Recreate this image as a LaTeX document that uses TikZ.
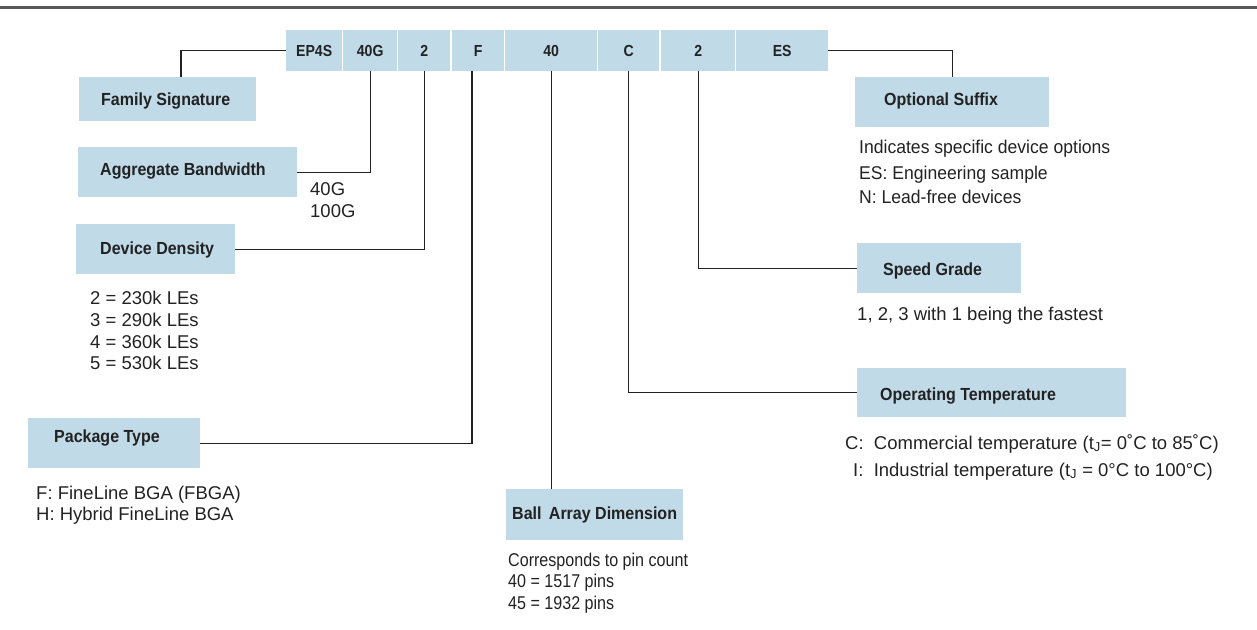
\documentclass[tikz,border=0pt]{standalone}
\usepackage{fontspec}
\setmainfont{Liberation Sans}
\newfontfamily\condfont{Liberation Sans}[FakeStretch=0.88]
\newfontfamily\lblfont{Liberation Sans}[FakeStretch=0.915]
\newfontfamily\cbodyfont{Liberation Sans}[FakeStretch=0.95]
\newfontfamily\nbodyfont{Liberation Sans}[FakeStretch=0.87]
\definecolor{boxblue}{RGB}{192,218,232}
\definecolor{ink}{RGB}{34,34,34}
\begin{document}
\begin{tikzpicture}[x=1pt,y=-1pt,
  codebox/.style={fill=boxblue, draw=none, minimum height=41pt, inner sep=0pt, anchor=north west,
    font=\condfont\bfseries\fontsize{16}{18}\selectfont, text=ink},
  lblbox/.style={fill=boxblue, draw=none, inner sep=0pt, anchor=north west},
  lbl/.style={anchor=west, inner sep=0pt, font=\lblfont\bfseries\fontsize{17.5}{20}\selectfont, text=ink},
  body/.style={anchor=base west, inner sep=0pt, font=\fontsize{18.5}{20}\selectfont, text=ink},
  cbody/.style={anchor=base west, inner sep=0pt, font=\cbodyfont\fontsize{18.5}{20}\selectfont, text=ink},
  nbody/.style={anchor=base west, inner sep=0pt, font=\nbodyfont\fontsize{18.5}{20}\selectfont, text=ink},
  conn/.style={draw=ink, line width=1.3pt}]
\useasboundingbox (0,0) rectangle (1257,629);
\draw[line width=2.2pt, draw=black!65] (0,7.5) -- (1257,7.5);

% code boxes
\node[codebox, minimum width=56pt] (ep) at (286,30) {EP4S};
\node[codebox, minimum width=54pt] (g40) at (343,30) {40G};
\node[codebox, minimum width=52pt] (d2) at (398,30) {2};
\node[codebox, minimum width=52pt] (pf) at (452,30) {F};
\node[codebox, minimum width=92pt] (p40) at (505,30) {40};
\node[codebox, minimum width=61pt] (pc) at (598,30) {C};
\node[codebox, minimum width=74pt] (s2) at (661,30) {2};
\node[codebox, minimum width=92pt] (es) at (736,30) {ES};

% label boxes
\node[lblbox, minimum width=177pt, minimum height=44pt] (fs) at (79,77) {};
\node[lbl] (fst) at (101,101) {Family Signature};
\node[lblbox, minimum width=219pt, minimum height=50pt] (ab) at (78,147) {};
\node[lbl] (abt) at (100,171) {Aggregate Bandwidth};
\node[lblbox, minimum width=159pt, minimum height=50pt] (dd) at (76,224) {};
\node[lbl] (ddt) at (100,250) {Device Density};
\node[lblbox, minimum width=172pt, minimum height=50pt] (pt) at (28,418) {};
\node[lbl] (ptt) at (54,438) {Package Type};
\node[lblbox, minimum width=177pt, minimum height=51pt] (ba) at (506,489) {};
\node[lbl] (bat) at (512,515) {Ball\, Array Dimension};
\node[lblbox, minimum width=194pt, minimum height=50pt] (os) at (855,77) {};
\node[lbl] (ost) at (884,101) {Optional Suffix};
\node[lblbox, minimum width=164pt, minimum height=50pt] (sg) at (857,243) {};
\node[lbl] (sgt) at (883,271) {Speed Grade};
\node[lblbox, minimum width=269pt, minimum height=49pt] (ot) at (857,368) {};
\node[lbl] (ott) at (880,396) {Operating Temperature};

% connectors
\coordinate (fsj) at (181,77);
\draw[conn] (ep.west) -| (fsj);
\draw[conn] (ab.east) -| (g40.south);
\draw[conn] (dd.east) -| (d2.south);
\coordinate (pfj) at (472,71);
\draw[conn] (pt.east) -| (pfj);
\draw[conn] (p40.south) -- (p40.south |- ba.north);
\draw[conn] (es.east) -| (os.north);
\draw[conn] (s2.south) |- (sg.west);
\draw[conn] (pc.south) |- (ot.west);

% body texts
\node[body] (bw1) at (310,195) {40G};
\node[body] (bw2) at (310,217) {100G};
\node[body] (dn1) at (90,304) {2 = 230k LEs};
\node[body] (dn2) at (90,326) {3 = 290k LEs};
\node[body] (dn3) at (90,348) {4 = 360k LEs};
\node[body] (dn4) at (90,369) {5 = 530k LEs};
\node[body] (pk1) at (36,499) {F: FineLine BGA (FBGA)};
\node[body] (pk2) at (36,520) {H: Hybrid FineLine BGA};
\node[nbody] (bd1) at (508,566) {Corresponds to pin count};
\node[nbody] (bd2) at (508,587) {40 = 1517 pins};
\node[nbody] (bd3) at (508,609) {45 = 1932 pins};
\node[cbody] (op1) at (859,153) {Indicates specific device options};
\node[cbody] (op2) at (859,179) {ES: Engineering sample};
\node[cbody] (op3) at (859,203) {N: Lead-free devices};
\node[body] (sp1) at (857,320) {1, 2, 3 with 1 being the fastest};
\node[body] (tm1) at (845,449) {C:\ \ Commercial temperature (t\textsubscript{J}= 0˚C to 85˚C)};
\node[body] (tm2) at (853,476) {I:\ \ Industrial temperature (t\textsubscript{J} = 0°C to 100°C)};
\end{tikzpicture}
\end{document}
